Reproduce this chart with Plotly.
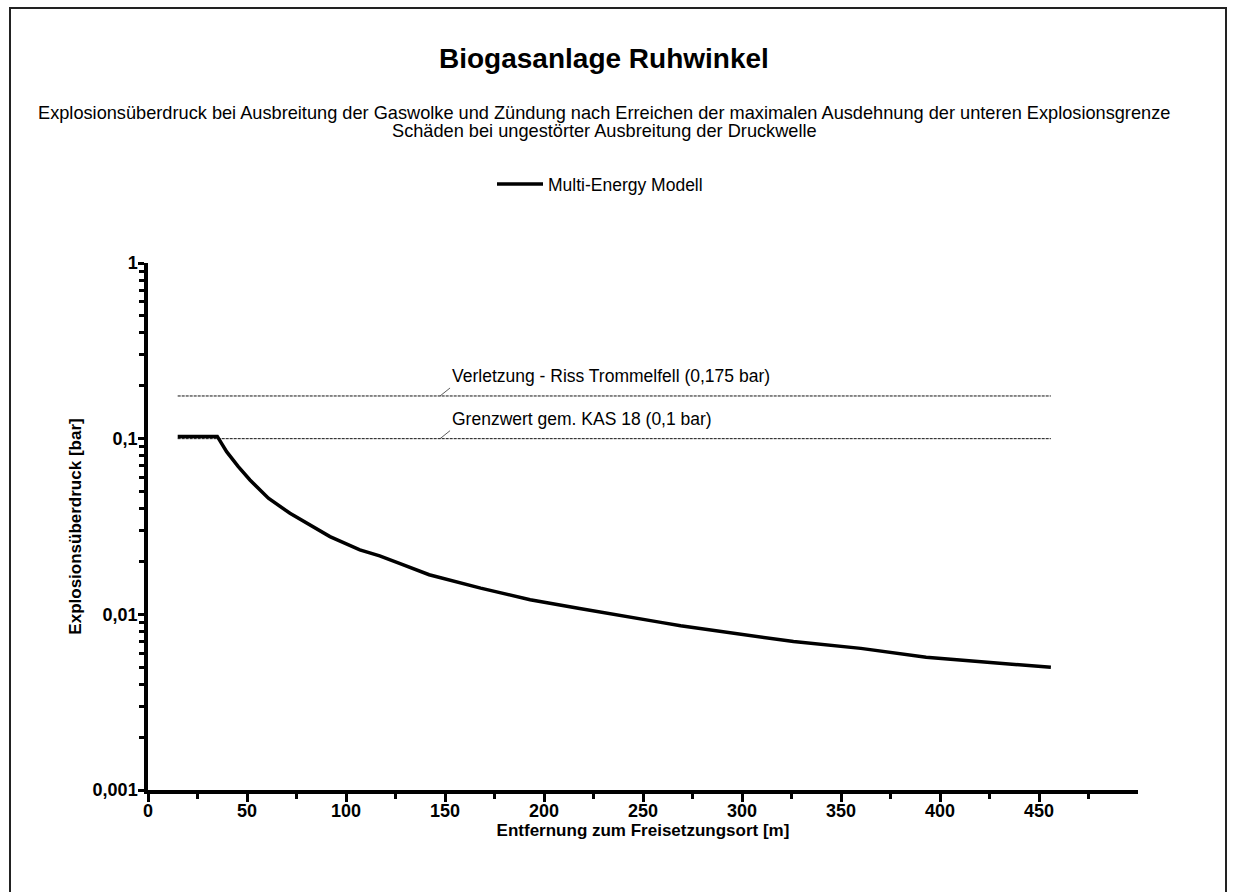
import numpy as np
import plotly.graph_objects as go

# ---- data ----
distance_m = [15, 35, 39.7, 45.6, 51.5, 60.8, 71.7, 80.1, 91.9, 107, 117, 127, 142, 168,
              193, 218, 243, 259, 269, 292, 326, 360, 393, 427, 456]
overpressure_bar = [0.103, 0.103, 0.0843, 0.0693, 0.0582, 0.0458, 0.0376, 0.0330, 0.0277,
                    0.0233, 0.0215, 0.0195, 0.0168, 0.0141, 0.0121, 0.0108, 0.0096, 0.0090,
                    0.0086, 0.0079, 0.0070, 0.0064, 0.0057, 0.0053, 0.0050]
series_name = "Multi-Energy Modell"

ref_x = [15, 456]
ref_values = [0.175, 0.1]
ref_labels = ["Verletzung - Riss Trommelfell (0,175 bar)", "Grenzwert gem. KAS 18 (0,1 bar)"]
ref_label_x = 147.5

x_major = [0, 50, 100, 150, 200, 250, 300, 350, 400, 450]
x_minor = [25, 75, 125, 175, 225, 275, 325, 375, 425, 475]
y_major = [0.001, 0.01, 0.1, 1]
y_major_text = ["0,001", "0,01", "0,1", "1"]
y_minor = [m * 10.0 ** e for e in (-3, -2, -1) for m in range(2, 10)]

title = "Biogasanlage Ruhwinkel"
subtitle1 = "Explosionsüberdruck bei Ausbreitung der Gaswolke und Zündung nach Erreichen der maximalen Ausdehnung der unteren Explosionsgrenze"
subtitle2 = "Schäden bei ungestörter Ausbreitung der Druckwelle"
x_title = "Entfernung zum Freisetzungsort [m]"
y_title = "Explosionsüberdruck [bar]"

FONT = "Liberation Sans, Arial, sans-serif"
W, H = 1234, 892
L, R, T, B = 148, 1138, 263, 790


def px(xp):
    return (xp - L) / (R - L)


def py(yp):
    return (B - yp) / (B - T)


fig = go.Figure()

for v in ref_values:
    fig.add_trace(go.Scatter(x=ref_x, y=[v, v], mode="lines", showlegend=False,
                             hoverinfo="skip",
                             line=dict(color="#111111", width=1, dash="3px,1px")))

fig.add_trace(go.Scatter(x=distance_m, y=overpressure_bar, mode="lines", name=series_name,
                         line=dict(color="black", width=3.5)))

for v, lab in zip(ref_values, ref_labels):
    fig.add_annotation(x=ref_label_x, y=np.log10(v), xref="x", yref="y", text=lab,
                       showarrow=True, arrowhead=0, arrowwidth=0.8, arrowcolor="#333",
                       ax=10, ay=-8, xanchor="left", yanchor="bottom",
                       font=dict(family=FONT, size=17.5, color="black"))

fig.add_annotation(x=px(604), y=py(58), xref="paper", yref="paper", text="<b>" + title + "</b>",
                   showarrow=False, xanchor="center", yanchor="middle",
                   font=dict(family=FONT, size=28, color="black"))
fig.add_annotation(x=px(604), y=py(113), xref="paper", yref="paper", text=subtitle1,
                   showarrow=False, xanchor="center", yanchor="middle",
                   font=dict(family=FONT, size=18.2, color="black"))
fig.add_annotation(x=px(604), y=py(131), xref="paper", yref="paper", text=subtitle2,
                   showarrow=False, xanchor="center", yanchor="middle",
                   font=dict(family=FONT, size=18.2, color="black"))

# outer frame
fig.add_shape(type="rect", xref="paper", yref="paper",
              x0=px(10), x1=px(1226), y0=py(905), y1=py(8),
              line=dict(color="#222222", width=2), fillcolor="rgba(0,0,0,0)")

fig.update_layout(
    width=W, height=H,
    margin=dict(l=L, r=W - R, t=T, b=H - B),
    paper_bgcolor="white", plot_bgcolor="white",
    font=dict(family=FONT, color="black"),
    showlegend=True,
    legend=dict(orientation="h", x=px(492), y=py(184), xanchor="left", yanchor="middle",
                itemwidth=46,
                font=dict(family=FONT, size=17.5, color="black"), bgcolor="rgba(0,0,0,0)"),
    xaxis=dict(range=[0, 500], showgrid=False, zeroline=False,
               showline=True, linecolor="black", linewidth=3.5,
               tickmode="array", tickvals=x_major, ticktext=[str(v) for v in x_major],
               ticks="outside", ticklen=8, tickwidth=3, tickcolor="black",
               ticklabelstandoff=-6,
               tickfont=dict(family=FONT, size=18, color="black", weight="bold"),
               minor=dict(tickmode="array", tickvals=x_minor, ticks="outside", ticklen=5,
                          tickwidth=3, tickcolor="black", showgrid=False),
               title=dict(text="<b>" + x_title + "</b>", font=dict(family=FONT, size=17, color="black"),
                          standoff=2)),
    yaxis=dict(type="log", range=[-3, 0], showgrid=False, zeroline=False,
               showline=True, linecolor="black", linewidth=3.5,
               tickmode="array", tickvals=y_major, ticktext=y_major_text,
               ticks="outside", ticklen=6, tickwidth=3, tickcolor="black",
               ticklabelstandoff=-3,
               tickfont=dict(family=FONT, size=18, color="black", weight="bold"),
               minor=dict(tickmode="array", tickvals=y_minor, ticks="outside", ticklen=5,
                          tickwidth=3, tickcolor="black", showgrid=False),
               title=dict(text="<b>" + y_title + "</b>", font=dict(family=FONT, size=17, color="black"),
                          standoff=8)),
)

fig.write_html("out.html")
